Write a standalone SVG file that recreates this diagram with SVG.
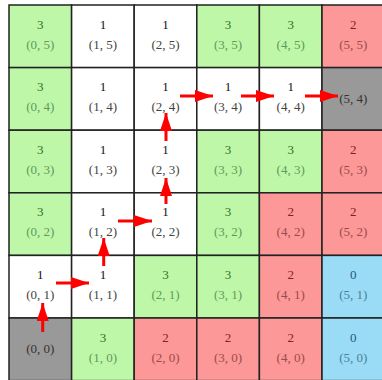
<svg xmlns="http://www.w3.org/2000/svg" width="382" height="380" viewBox="0 0 382 380">
<style>
rect{stroke:#222;stroke-width:1.5}
.g rect{fill:#bff7a9}.r rect{fill:#fd9898}.b rect{fill:#9adcf6}.w rect{fill:#fff}.k rect{fill:#999}
text{font-family:"Liberation Serif","DejaVu Serif",serif;font-size:13px;text-anchor:middle}
.g .n{fill:#2f6f2a}.g .c{fill:#5f9a5a}
.r .n{fill:#8a1c22}.r .c{fill:#9c4a4e}
.b .n{fill:#1f5a74}.b .c{fill:#4b819b}
.w .n{fill:#111}.w .c{fill:#444}
.k .c{fill:#333}
.arr{stroke:#f00;stroke-width:3;fill:none;marker-end:url(#ah)}
</style>
<defs>
<marker id="ah" viewBox="0 0 18 12" refX="18" refY="6" markerWidth="18" markerHeight="12" markerUnits="userSpaceOnUse" orient="auto"><path d="M0,0 L18,6 L0,12 z" fill="#f00"/></marker>
</defs>
<g id="cells">
<g id="c0_5" class="g" transform="translate(9,5)"><rect width="62.6" height="62.6"/><text class="n" x="31.3" y="23.5">3</text><text class="c" x="31.3" y="43.5">(0, 5)</text></g>
<g id="c1_5" class="w" transform="translate(71.6,5)"><rect width="62.6" height="62.6"/><text class="n" x="31.3" y="23.5">1</text><text class="c" x="31.3" y="43.5">(1, 5)</text></g>
<g id="c2_5" class="w" transform="translate(134.2,5)"><rect width="62.6" height="62.6"/><text class="n" x="31.3" y="23.5">1</text><text class="c" x="31.3" y="43.5">(2, 5)</text></g>
<g id="c3_5" class="g" transform="translate(196.8,5)"><rect width="62.6" height="62.6"/><text class="n" x="31.3" y="23.5">3</text><text class="c" x="31.3" y="43.5">(3, 5)</text></g>
<g id="c4_5" class="g" transform="translate(259.4,5)"><rect width="62.6" height="62.6"/><text class="n" x="31.3" y="23.5">3</text><text class="c" x="31.3" y="43.5">(4, 5)</text></g>
<g id="c5_5" class="r" transform="translate(322,5)"><rect width="62.6" height="62.6"/><text class="n" x="31.3" y="23.5">2</text><text class="c" x="31.3" y="43.5">(5, 5)</text></g>

<g id="c0_4" class="g" transform="translate(9,67.6)"><rect width="62.6" height="62.6"/><text class="n" x="31.3" y="23.5">3</text><text class="c" x="31.3" y="43.5">(0, 4)</text></g>
<g id="c1_4" class="w" transform="translate(71.6,67.6)"><rect width="62.6" height="62.6"/><text class="n" x="31.3" y="23.5">1</text><text class="c" x="31.3" y="43.5">(1, 4)</text></g>
<g id="c2_4" class="w" transform="translate(134.2,67.6)"><rect width="62.6" height="62.6"/><text class="n" x="31.3" y="23.5">1</text><text class="c" x="31.3" y="43.5">(2, 4)</text></g>
<g id="c3_4" class="w" transform="translate(196.8,67.6)"><rect width="62.6" height="62.6"/><text class="n" x="31.3" y="23.5">1</text><text class="c" x="31.3" y="43.5">(3, 4)</text></g>
<g id="c4_4" class="w" transform="translate(259.4,67.6)"><rect width="62.6" height="62.6"/><text class="n" x="31.3" y="23.5">1</text><text class="c" x="31.3" y="43.5">(4, 4)</text></g>
<g id="c5_4" class="k" transform="translate(322,67.6)"><rect width="62.6" height="62.6"/><text class="c" x="31.3" y="35">(5, 4)</text></g>

<g id="c0_3" class="g" transform="translate(9,130.2)"><rect width="62.6" height="62.6"/><text class="n" x="31.3" y="23.5">3</text><text class="c" x="31.3" y="43.5">(0, 3)</text></g>
<g id="c1_3" class="w" transform="translate(71.6,130.2)"><rect width="62.6" height="62.6"/><text class="n" x="31.3" y="23.5">1</text><text class="c" x="31.3" y="43.5">(1, 3)</text></g>
<g id="c2_3" class="w" transform="translate(134.2,130.2)"><rect width="62.6" height="62.6"/><text class="n" x="31.3" y="23.5">1</text><text class="c" x="31.3" y="43.5">(2, 3)</text></g>
<g id="c3_3" class="g" transform="translate(196.8,130.2)"><rect width="62.6" height="62.6"/><text class="n" x="31.3" y="23.5">3</text><text class="c" x="31.3" y="43.5">(3, 3)</text></g>
<g id="c4_3" class="g" transform="translate(259.4,130.2)"><rect width="62.6" height="62.6"/><text class="n" x="31.3" y="23.5">3</text><text class="c" x="31.3" y="43.5">(4, 3)</text></g>
<g id="c5_3" class="r" transform="translate(322,130.2)"><rect width="62.6" height="62.6"/><text class="n" x="31.3" y="23.5">2</text><text class="c" x="31.3" y="43.5">(5, 3)</text></g>

<g id="c0_2" class="g" transform="translate(9,192.8)"><rect width="62.6" height="62.6"/><text class="n" x="31.3" y="23.5">3</text><text class="c" x="31.3" y="43.5">(0, 2)</text></g>
<g id="c1_2" class="w" transform="translate(71.6,192.8)"><rect width="62.6" height="62.6"/><text class="n" x="31.3" y="23.5">1</text><text class="c" x="31.3" y="43.5">(1, 2)</text></g>
<g id="c2_2" class="w" transform="translate(134.2,192.8)"><rect width="62.6" height="62.6"/><text class="n" x="31.3" y="23.5">1</text><text class="c" x="31.3" y="43.5">(2, 2)</text></g>
<g id="c3_2" class="g" transform="translate(196.8,192.8)"><rect width="62.6" height="62.6"/><text class="n" x="31.3" y="23.5">3</text><text class="c" x="31.3" y="43.5">(3, 2)</text></g>
<g id="c4_2" class="r" transform="translate(259.4,192.8)"><rect width="62.6" height="62.6"/><text class="n" x="31.3" y="23.5">2</text><text class="c" x="31.3" y="43.5">(4, 2)</text></g>
<g id="c5_2" class="r" transform="translate(322,192.8)"><rect width="62.6" height="62.6"/><text class="n" x="31.3" y="23.5">2</text><text class="c" x="31.3" y="43.5">(5, 2)</text></g>

<g id="c0_1" class="w" transform="translate(9,255.4)"><rect width="62.6" height="62.6"/><text class="n" x="31.3" y="23.5">1</text><text class="c" x="31.3" y="43.5">(0, 1)</text></g>
<g id="c1_1" class="w" transform="translate(71.6,255.4)"><rect width="62.6" height="62.6"/><text class="n" x="31.3" y="23.5">1</text><text class="c" x="31.3" y="43.5">(1, 1)</text></g>
<g id="c2_1" class="g" transform="translate(134.2,255.4)"><rect width="62.6" height="62.6"/><text class="n" x="31.3" y="23.5">3</text><text class="c" x="31.3" y="43.5">(2, 1)</text></g>
<g id="c3_1" class="g" transform="translate(196.8,255.4)"><rect width="62.6" height="62.6"/><text class="n" x="31.3" y="23.5">3</text><text class="c" x="31.3" y="43.5">(3, 1)</text></g>
<g id="c4_1" class="r" transform="translate(259.4,255.4)"><rect width="62.6" height="62.6"/><text class="n" x="31.3" y="23.5">2</text><text class="c" x="31.3" y="43.5">(4, 1)</text></g>
<g id="c5_1" class="b" transform="translate(322,255.4)"><rect width="62.6" height="62.6"/><text class="n" x="31.3" y="23.5">0</text><text class="c" x="31.3" y="43.5">(5, 1)</text></g>

<g id="c0_0" class="k" transform="translate(9,318)"><rect width="62.6" height="62.6"/><text class="c" x="31.3" y="35">(0, 0)</text></g>
<g id="c1_0" class="g" transform="translate(71.6,318)"><rect width="62.6" height="62.6"/><text class="n" x="31.3" y="23.5">3</text><text class="c" x="31.3" y="43.5">(1, 0)</text></g>
<g id="c2_0" class="r" transform="translate(134.2,318)"><rect width="62.6" height="62.6"/><text class="n" x="31.3" y="23.5">2</text><text class="c" x="31.3" y="43.5">(2, 0)</text></g>
<g id="c3_0" class="r" transform="translate(196.8,318)"><rect width="62.6" height="62.6"/><text class="n" x="31.3" y="23.5">2</text><text class="c" x="31.3" y="43.5">(3, 0)</text></g>
<g id="c4_0" class="r" transform="translate(259.4,318)"><rect width="62.6" height="62.6"/><text class="n" x="31.3" y="23.5">2</text><text class="c" x="31.3" y="43.5">(4, 0)</text></g>
<g id="c5_0" class="b" transform="translate(322,318)"><rect width="62.6" height="62.6"/><text class="n" x="31.3" y="23.5">0</text><text class="c" x="31.3" y="43.5">(5, 0)</text></g>
</g>
<g id="connectors">
<path class="arr" d="M42.7,332 L42.7,303"/>
<path class="arr" d="M56,283 L89,283"/>
<path class="arr" d="M103.7,266 L103.7,238"/>
<path class="arr" d="M118,221 L152,221"/>
<path class="arr" d="M166,204 L166,178"/>
<path class="arr" d="M166,141 L166,113"/>
<path class="arr" d="M180,96 L213,96"/>
<path class="arr" d="M241,96 L274,96"/>
<path class="arr" d="M305,96 L338,96"/>
</g>
</svg>
